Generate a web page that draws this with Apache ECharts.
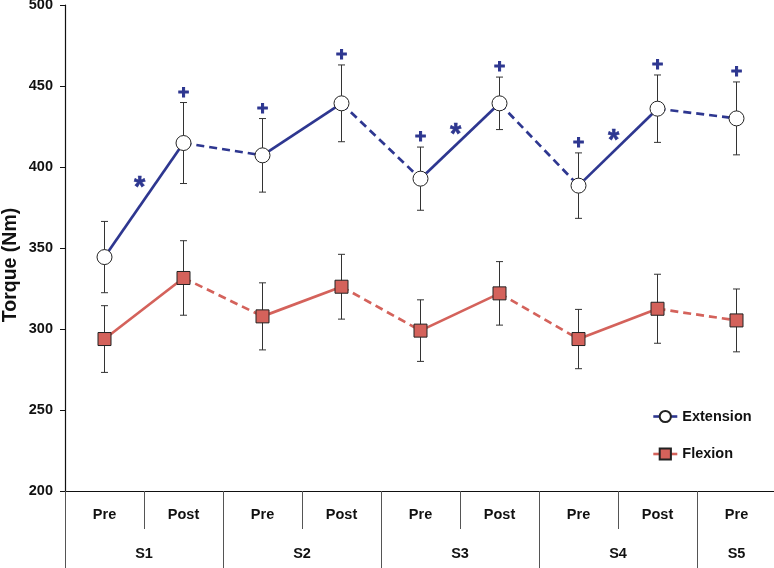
<!DOCTYPE html>
<html>
<head>
<meta charset="utf-8">
<script src="https://cdn.jsdelivr.net/npm/echarts@6/dist/echarts.min.js"></script>
<style>html,body{margin:0;padding:0;background:#fff;}#c{width:774px;height:568px;}</style>
</head>
<body>
<div id="c"></div>
<script>
// ---- data ----
const categories = ['Pre','Post','Pre','Post','Pre','Post','Pre','Post','Pre'];
const sessions = ['S1','S2','S3','S4','S5'];
const sessionSpans = [2,2,2,2,1];
const extension    = [344.4, 414.8, 407.2, 439.3, 392.8, 439.3, 388.5, 436.0, 430.0];
const extensionErr = [22.0, 25.0, 22.7, 23.7, 19.5, 16.2, 20.2, 20.8, 22.5];
const flexion      = [293.8, 331.5, 307.8, 326.1, 299.0, 322.0, 293.8, 312.5, 305.3];
const flexionErr   = [20.6, 23.0, 20.7, 20.0, 19.0, 19.6, 18.3, 21.3, 19.4];
const plusMarks = [0,1,1,1,1,1,1,1,1];      // '+' over extension points
const asteriskSegments = [0, 4, 6];         // '*' on Pre->Post extension segments
const yTicks = { min: 200, max: 500, interval: 50 };
const yTitle = 'Torque (Nm)';

// ---- derived ----
const EXT_COLOR = '#2e3790';
const FLX_COLOR = '#d4625b';
const FONT = 'Liberation Sans, Arial, sans-serif';
const FS = 14.5;

function segData(arr){ return arr.slice(0,-1).map((v,i)=>[i, v, arr[i+1]]); }
function errData(arr, err){ return arr.map((v,i)=>[i, v, err[i]]); }

let pos = 0; const sessionTicks = [0]; const sessionLabelPos = [];
sessionSpans.forEach(s => { sessionLabelPos.push(pos + s/2); pos += s; sessionTicks.push(pos); });

function segRender(color){
  return function(params, api){
    const i = api.value(0);
    const p0 = api.coord([i, api.value(1)]);
    const p1 = api.coord([i+1, api.value(2)]);
    return { type:'line', shape:{x1:p0[0], y1:p0[1], x2:p1[0], y2:p1[1]},
      style:{ stroke: color, lineWidth: 2.7, lineDash: (i % 2 === 1) ? [8,5] : null } };
  };
}
function errRender(params, api){
  const i = api.value(0), v = api.value(1), e = api.value(2);
  const t = api.coord([i, v+e]), b = api.coord([i, v-e]);
  const w = 3.5, st = { stroke:'#333', lineWidth:1 };
  return { type:'group', children:[
    {type:'line', shape:{x1:t[0],y1:t[1],x2:b[0],y2:b[1]}, style:st},
    {type:'line', shape:{x1:t[0]-w,y1:t[1],x2:t[0]+w,y2:t[1]}, style:st},
    {type:'line', shape:{x1:b[0]-w,y1:b[1],x2:b[0]+w,y2:b[1]}, style:st}
  ]};
}

const chart = echarts.init(document.getElementById('c'), null, {renderer:'canvas'});
const option = {
  animation:false,
  grid:{ left:65, right:-2, top:5, bottom:77, containLabel:false, outerBoundsMode:'none' },
  graphic:[{ type:'text', x:11, y:265, rotation:Math.PI/2,
    style:{ text:yTitle, font:'bold 19.5px '+FONT, fill:'#111', align:'center', verticalAlign:'middle' } }],
  legend:{
    orient:'vertical', left:647, top:404, itemWidth:24, itemHeight:14, itemGap:22.5,
    data:['Extension','Flexion'],
    textStyle:{ fontFamily:FONT, fontWeight:'bold', fontSize:FS, color:'#111' },
    lineStyle:{ opacity:1, width:2.6 }
  },
  xAxis:[
    { type:'category', data:categories, boundaryGap:true, position:'bottom',
      axisLine:{ show:true, lineStyle:{ color:'#111', width:1.2 } },
      axisTick:{ show:true, interval:0, length:38, lineStyle:{ color:'#555', width:1 } },
      axisLabel:{ interval:0, margin:16, fontFamily:FONT, fontWeight:'bold', fontSize:FS, color:'#111' },
      splitLine:{show:false} },
    { type:'value', min:0, max:categories.length, position:'bottom', offset:0,
      axisLine:{ show:false },
      axisTick:{ show:true, length:80, customValues:sessionTicks, lineStyle:{ color:'#555', width:1 } },
      axisLabel:{ show:true, margin:55, customValues:sessionLabelPos,
        formatter:(v)=>{ const k = sessionLabelPos.indexOf(v); return k>=0 ? sessions[k] : ''; },
        fontFamily:FONT, fontWeight:'bold', fontSize:FS, color:'#111' },
      splitLine:{show:false} }
  ],
  yAxis:{ type:'value', min:yTicks.min, max:yTicks.max, interval:yTicks.interval,
    axisLine:{ show:true, lineStyle:{ color:'#111', width:1.2 } },
    axisTick:{ show:true, length:5, lineStyle:{ color:'#111' } },
    axisLabel:{ margin:12, fontFamily:FONT, fontWeight:'bold', fontSize:FS, color:'#111' },
    splitLine:{ show:false } },
  series:[
    { type:'custom', name:'extSeg', xAxisIndex:0, data:segData(extension), encode:{x:0,y:1}, renderItem:segRender(EXT_COLOR), z:2, silent:true },
    { type:'custom', name:'flxSeg', xAxisIndex:0, data:segData(flexion), encode:{x:0,y:1}, renderItem:segRender(FLX_COLOR), z:2, silent:true },
    { type:'custom', name:'extErr', xAxisIndex:0, data:errData(extension, extensionErr), encode:{x:0,y:1}, renderItem:errRender, z:3, silent:true },
    { type:'custom', name:'flxErr', xAxisIndex:0, data:errData(flexion, flexionErr), encode:{x:0,y:1}, renderItem:errRender, z:3, silent:true },
    { type:'line', name:'Extension', xAxisIndex:0, data:extension, symbol:'circle', symbolSize:15, showSymbol:true,
      lineStyle:{ color:EXT_COLOR, width:2.6, opacity:0 },
      itemStyle:{ color:'#fff', borderColor:'#222', borderWidth:1 }, z:5 },
    { type:'line', name:'Flexion', xAxisIndex:0, data:flexion, symbol:'rect', symbolSize:13, showSymbol:true,
      lineStyle:{ color:FLX_COLOR, width:2.6, opacity:0 },
      itemStyle:{ color:FLX_COLOR, borderColor:'#222', borderWidth:1 }, z:5 },
    { type:'custom', name:'plus', xAxisIndex:0, silent:true, z:6,
      data: extension.map((v,i)=>[i, v + extensionErr[i], plusMarks[i]]), encode:{x:0,y:1},
      renderItem:(params, api)=>{
        if (!api.value(2)) return null;
        const p = api.coord([api.value(0), api.value(1)]);
        return { type:'text', x:p[0], y:p[1]-10, style:{ text:'+', fill:EXT_COLOR, stroke:EXT_COLOR, lineWidth:1, font:'bold 19px '+FONT, align:'center', verticalAlign:'middle' } };
      } },
    { type:'custom', name:'asterisk', xAxisIndex:0, silent:true, z:6,
      data: asteriskSegments.map(i=>[i, extension[i], extension[i+1]]), encode:{x:0,y:1},
      renderItem:(params, api)=>{
        const i = api.value(0);
        const p0 = api.coord([i, api.value(1)]), p1 = api.coord([i+1, api.value(2)]);
        const t = 0.66, fs = 29;
        const x = p0[0] + (p1[0]-p0[0])*t - 17, y = p0[1] + (p1[1]-p0[1])*t;
        return { type:'text', x:x, y:y - 0.3*fs, style:{ text:'*', fill:EXT_COLOR, stroke:EXT_COLOR, lineWidth:0.6, font:'bold '+fs+'px '+FONT, align:'center', verticalAlign:'top' } };
      } }
  ]
};
chart.setOption(option);
</script>
</body>
</html>
